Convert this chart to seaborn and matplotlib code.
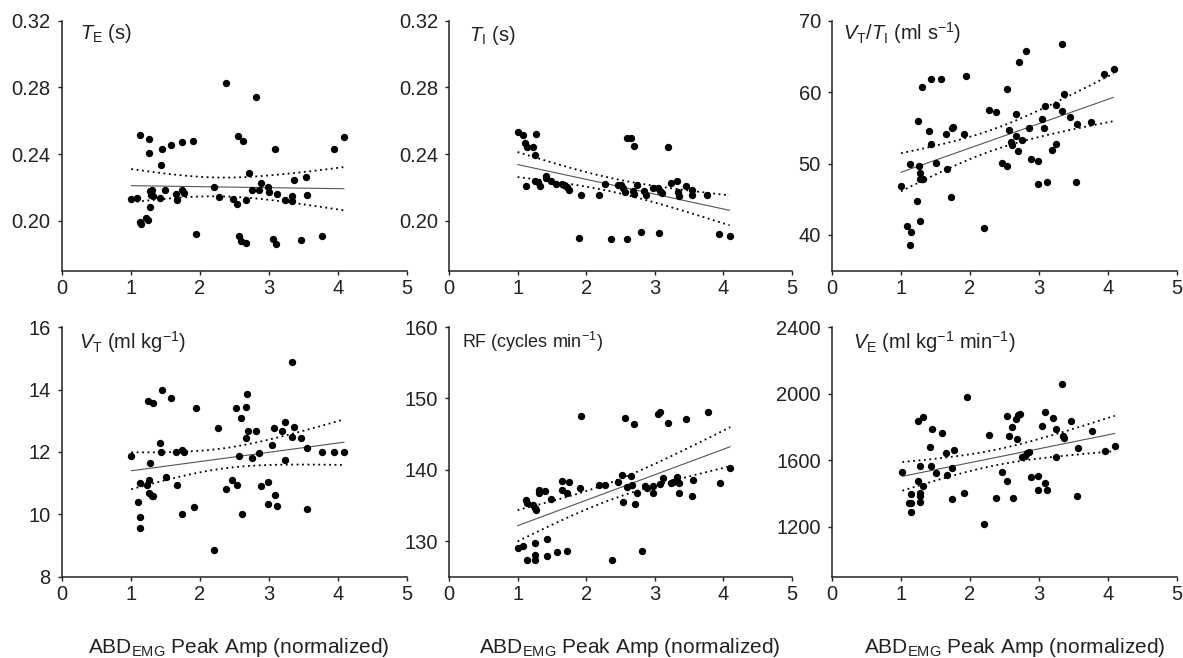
import numpy as np
import matplotlib
matplotlib.use("Agg")
import matplotlib.pyplot as plt
import seaborn as sns

# T_E (s)
te_x = [1.01, 1.09, 1.14, 1.14, 1.15, 1.23, 1.25, 1.27, 1.27, 1.28, 1.28, 1.29, 1.31, 1.32,
        1.44, 1.45, 1.42, 1.50, 1.59, 1.65, 1.67, 1.74, 1.74, 1.77, 1.91, 1.95, 2.20, 2.28,
        2.38, 2.48, 2.54, 2.55, 2.57, 2.60, 2.62, 2.67, 2.67, 2.72, 2.75, 2.82, 2.86, 2.89,
        2.99, 3.00, 3.06, 3.09, 3.10, 3.12, 3.24, 3.33, 3.34, 3.36, 3.46, 3.54, 3.55, 3.77,
        3.94, 4.09]
te_y = [0.213, 0.2136, 0.2512, 0.199, 0.198, 0.2015, 0.2005, 0.2488, 0.2404, 0.2082, 0.2176,
        0.2156, 0.2186, 0.2146, 0.2336, 0.2432, 0.2136, 0.2182, 0.2452, 0.2162, 0.2126, 0.2474,
        0.2186, 0.2166, 0.2476, 0.192, 0.2202, 0.2144, 0.2824, 0.213, 0.210, 0.251, 0.191,
        0.1878, 0.2478, 0.1866, 0.2126, 0.2284, 0.2186, 0.274, 0.2186, 0.2226, 0.220, 0.217,
        0.1892, 0.2428, 0.186, 0.216, 0.2126, 0.2118, 0.2146, 0.2246, 0.1882, 0.226, 0.2156,
        0.1906, 0.2428, 0.2504]

# T_I (s)
ti_x = [1.00, 1.08, 1.27, 1.11, 1.13, 1.22, 1.26, 2.60, 2.66, 2.69, 3.19, 1.12, 1.25, 1.30,
        1.32, 1.42, 1.42, 1.49, 1.56, 1.64, 1.68, 1.72, 1.75, 1.93, 2.19, 2.27, 2.46, 2.51,
        2.53, 2.56, 2.68, 2.70, 2.74, 2.84, 2.87, 2.97, 3.04, 3.07, 3.10, 3.23, 3.33, 3.34,
        3.36, 3.46, 3.54, 3.54, 3.76, 1.90, 2.36, 2.60, 2.80, 3.06, 3.94, 4.09]
ti_y = [0.2531, 0.2513, 0.2523, 0.2466, 0.2442, 0.244, 0.2396, 0.2497, 0.2497, 0.2446, 0.244,
        0.2205, 0.2235, 0.2231, 0.2205, 0.2269, 0.2255, 0.2235, 0.2221, 0.2221, 0.2215, 0.2203,
        0.2181, 0.2155, 0.2155, 0.2219, 0.2215, 0.2215, 0.2195, 0.2171, 0.2175, 0.2159, 0.2213,
        0.2179, 0.2151, 0.2195, 0.2195, 0.2179, 0.2165, 0.2223, 0.2235, 0.2171, 0.2149, 0.2205,
        0.2181, 0.2151, 0.2155, 0.1893, 0.1887, 0.1891, 0.193, 0.1928, 0.192, 0.1906]

# V_T / T_I (ml s-1)
vtti_x = [3.33, 2.81, 2.71, 1.31, 1.44, 1.58, 1.94, 2.53, 3.94, 4.08, 3.36, 2.27, 2.37, 2.67,
          3.08, 3.24, 3.34, 3.05, 3.45, 3.55, 3.76, 1.24, 1.41, 1.65, 1.74, 1.76, 1.91, 2.56,
          2.85, 3.07, 1.44, 2.60, 2.61, 2.66, 2.75, 3.24, 3.19, 2.69, 2.88, 2.99, 1.13, 1.50,
          1.26, 2.46, 2.53, 1.66, 1.27, 1.27, 1.30, 1.32, 1.00, 2.99, 3.11, 3.54, 1.23, 1.73,
          1.27, 1.09, 1.14, 2.20, 1.13]
vtti_y = [66.7, 65.8, 64.3, 60.8, 61.9, 61.9, 62.3, 60.5, 62.5, 63.2, 59.7, 57.5, 57.2, 56.9,
          58.1, 58.2, 57.4, 56.3, 56.5, 55.6, 55.8, 55.9, 54.6, 54.2, 55.0, 55.1, 54.1, 54.7,
          55.0, 55.0, 52.8, 53.0, 52.6, 53.9, 53.3, 52.8, 51.9, 51.8, 50.7, 50.3, 49.9, 50.1,
          49.6, 50.1, 49.6, 49.3, 48.7, 47.9, 47.8, 47.9, 46.9, 47.1, 47.4, 47.4, 44.8, 45.3,
          41.9, 41.3, 40.4, 41.0, 38.6]

# V_T (ml kg-1)
vt_x = [3.34, 1.45, 1.59, 1.25, 1.32, 1.95, 2.69, 2.53, 2.67, 2.60, 2.27, 2.70, 2.81, 2.67,
        3.24, 3.08, 3.19, 3.36, 3.34, 3.46, 3.05, 3.56, 3.77, 3.94, 4.09, 1.42, 1.44, 1.01,
        1.65, 1.74, 1.77, 2.57, 2.75, 2.86, 3.24, 1.28, 1.14, 1.27, 1.24, 1.51, 1.67, 2.47,
        2.38, 2.54, 2.89, 2.99, 1.26, 1.31, 1.32, 3.09, 1.10, 2.99, 3.12, 1.92, 3.55, 1.74,
        2.61, 1.14, 1.14, 2.21]
vt_y = [14.88, 13.99, 13.72, 13.63, 13.57, 13.41, 13.87, 13.40, 13.43, 13.10, 12.76, 12.68,
        12.67, 12.45, 12.95, 12.77, 12.66, 12.80, 12.48, 12.46, 12.23, 12.11, 12.00, 12.01,
        12.01, 12.27, 12.00, 11.86, 11.99, 12.05, 12.01, 11.87, 11.81, 11.98, 11.75, 11.66,
        11.00, 11.09, 10.93, 11.20, 10.93, 11.09, 10.81, 10.93, 10.91, 11.03, 10.67, 10.59,
        10.58, 10.61, 10.39, 10.33, 10.27, 10.24, 10.18, 10.01, 10.01, 9.90, 9.55, 8.85]

# RF (cycles min-1)
rf_x = [1.93, 2.56, 2.69, 3.04, 3.08, 3.19, 3.45, 3.77, 4.10, 3.95, 1.31, 1.31, 1.40, 1.12,
        1.14, 1.22, 1.25, 1.27, 1.49, 1.65, 1.75, 1.64, 1.72, 1.91, 2.19, 2.27, 2.46, 2.52,
        2.66, 2.60, 2.67, 2.53, 2.74, 2.71, 2.85, 2.89, 2.98, 3.07, 3.12, 2.98, 3.24, 3.26,
        3.33, 3.35, 3.36, 3.56, 3.54, 1.00, 1.08, 1.25, 1.43, 1.13, 1.25, 1.26, 1.43, 1.58,
        1.72, 2.37, 2.81]
rf_y = [147.5, 147.3, 146.4, 147.8, 148.1, 146.5, 147.1, 148.1, 140.2, 138.2, 137.2, 136.8,
        137.0, 135.7, 135.3, 135.1, 134.7, 134.3, 135.95, 138.4, 138.25, 137.2, 136.75, 137.45,
        137.9, 137.8, 138.3, 139.2, 139.1, 137.6, 137.9, 135.5, 136.7, 135.2, 137.7, 137.5,
        137.7, 138.0, 138.9, 136.7, 138.2, 138.3, 139.0, 138.2, 136.75, 138.5, 136.3, 129.0,
        129.25, 129.7, 130.3, 127.4, 128.0, 127.3, 127.9, 128.45, 128.55, 127.4, 128.6]

# V_E (ml kg-1 min-1)
ve_x = [3.33, 1.95, 1.25, 1.32, 1.45, 1.59, 2.53, 2.67, 2.70, 2.72, 2.61, 2.57, 2.68, 3.09,
        3.20, 3.47, 3.05, 3.25, 3.35, 3.36, 3.77, 2.28, 1.42, 3.56, 3.95, 4.10, 1.65, 1.77,
        2.82, 2.85, 2.76, 2.79, 3.24, 1.02, 1.28, 1.44, 1.50, 1.67, 1.74, 2.47, 1.24, 1.32,
        2.54, 2.89, 2.99, 3.08, 2.99, 3.12, 1.14, 1.27, 1.28, 1.11, 1.15, 1.28, 1.14, 1.74,
        1.92, 2.38, 2.62, 3.55, 2.21]
ve_y = [2060, 1978, 1837, 1861, 1788, 1764, 1865, 1849, 1869, 1877, 1800, 1748, 1730, 1889,
        1853, 1833, 1806, 1790, 1748, 1736, 1774, 1754, 1680, 1676, 1657, 1684, 1643, 1659,
        1643, 1647, 1617, 1627, 1621, 1528, 1565, 1563, 1522, 1510, 1551, 1530, 1474, 1446,
        1478, 1498, 1506, 1462, 1422, 1422, 1400, 1406, 1385, 1341, 1341, 1349, 1289, 1365,
        1405, 1373, 1371, 1385, 1218]

panel_titles = [r'$T_{\mathrm{E}}$ (s)', r'$T_{\mathrm{I}}$ (s)',
                r'$V_{\mathrm{T}}/T_{\mathrm{I}}$ (ml s$^{-1}$)',
                r'$V_{\mathrm{T}}$ (ml kg$^{-1}$)', r'RF (cycles min$^{-1}$)',
                r'$V_{\mathrm{E}}$ (ml kg$^{-1}$ min$^{-1}$)']
panel_ylims = [(0.17, 0.32), (0.17, 0.32), (35, 70), (8, 16), (125, 160), (900, 2400)]
panel_yticks = [[0.20, 0.24, 0.28, 0.32], [0.20, 0.24, 0.28, 0.32], [40, 50, 60, 70],
                [8, 10, 12, 14, 16], [130, 140, 150, 160], [1200, 1600, 2000, 2400]]
xlabel = r'ABD$_{\mathrm{EMG}}$ Peak Amp (normalized)'

sns.set_style('ticks')
plt.rcParams['font.family'] = ['Liberation Sans', 'DejaVu Sans']
plt.rcParams['mathtext.fontset'] = 'custom'
plt.rcParams['mathtext.rm'] = 'Liberation Sans'
plt.rcParams['mathtext.it'] = 'Liberation Sans:italic'
plt.rcParams['mathtext.bf'] = 'Liberation Sans:bold'


def fit_bands(x, y, n_pts=60):
    # OLS fit and 95% confidence band of the mean
    x = np.asarray(x, float)
    y = np.asarray(y, float)
    n = len(x)
    b, a = np.polyfit(x, y, 1)
    resid = y - (a + b * x)
    s = np.sqrt(np.sum(resid ** 2) / (n - 2))
    sxx = np.sum((x - x.mean()) ** 2)
    xs = np.linspace(x.min(), x.max(), n_pts)
    yhat = a + b * xs
    half = 2.0 * s * np.sqrt(1.0 / n + (xs - x.mean()) ** 2 / sxx)
    return xs, yhat, yhat - half, yhat + half


W, H = 1183, 658
fig = plt.figure(figsize=(W / 100, H / 100), dpi=100)

col_left = [61.5, 449, 832]
col_width = [345.5, 343, 345]
row_bottom = [270.5, 576.7]
row_height = 249.6
title_pos = [(0.054, 0.95), (0.058, 0.94), (0.032, 0.95),
             (0.05, 0.94), (0.037, 0.94), (0.061, 0.94)]
xlabel_x = [239, 630, 1015]

datasets = [(te_x, te_y), (ti_x, ti_y), (vtti_x, vtti_y),
            (vt_x, vt_y), (rf_x, rf_y), (ve_x, ve_y)]

for i, (x, y) in enumerate(datasets):
    r, c = divmod(i, 3)
    ax = fig.add_axes([col_left[c] / W, 1 - row_bottom[r] / H,
                       col_width[c] / W, row_height / H])
    sns.scatterplot(x=x, y=y, ax=ax, color='black', s=28, linewidth=0, zorder=3)
    xs, yhat, lo, hi = fit_bands(x, y)
    sns.regplot(x=x, y=y, ax=ax, scatter=False, ci=None,
                line_kws=dict(color='#555555', lw=0.8))
    ax.plot(xs, lo, color='black', lw=1.3, linestyle=(0, (1, 2.0)))
    ax.plot(xs, hi, color='black', lw=1.3, linestyle=(0, (1, 2.0)))

    ax.set_xlim(0, 5)
    ax.set_ylim(*panel_ylims[i])
    ax.set_xticks([0, 1, 2, 3, 4, 5])
    ax.set_yticks(panel_yticks[i])
    if i < 2:
        ax.set_yticklabels([f'{v:.2f}' for v in panel_yticks[i]])
    for side in ['top', 'right']:
        ax.spines[side].set_visible(False)
    for side in ['left', 'bottom']:
        ax.spines[side].set_linewidth(1.1)
        ax.spines[side].set_color('#222222')
    ax.tick_params(axis='both', direction='out', length=3, width=1.0,
                   colors='#222222', labelsize=14.5, labelcolor='#222222')
    ax.tick_params(axis='y', pad=5)
    ax.tick_params(axis='x', pad=3)
    ax.set_xlabel('')
    ax.set_ylabel('')
    fs = 13 if i == 4 else 14.5
    ax.text(title_pos[i][0], title_pos[i][1], panel_titles[i], transform=ax.transAxes,
            fontsize=fs, ha='left', va='center', color='#222222')

for c in range(3):
    fig.text(xlabel_x[c] / W, 5 / H, xlabel, ha='center', va='baseline',
             fontsize=15, color='#222222')

fig.savefig('out.png', dpi=100)
